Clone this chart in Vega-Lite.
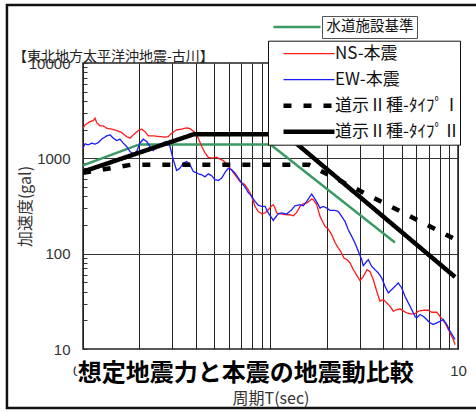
{
  "$schema": "https://vega.github.io/schema/vega-lite/v6.json",
  "width": 375,
  "height": 286,
  "autosize": {"type": "none"},
  "padding": {"left": 83, "top": 63, "right": 18, "bottom": 63},
  "background": "white",
  "title": {"text": "【東北地方太平洋沖地震-古川】", "anchor": "start", "frame": "group", "orient": "top", "fontSize": 14, "fontWeight": "normal", "font": "Noto Sans CJK JP", "color": "#222", "dx": -70, "dy": 64, "offset": 4},
  "config": {
    "font": "Noto Sans CJK JP",
    "view": {"stroke": "#222", "strokeWidth": 1.5}
  },
  "datasets": {
    "main": [
      {"s": "NS-本震", "T": 0.1, "v": 2070}, {"s": "NS-本震", "T": 0.1025, "v": 2244}, {"s": "NS-本震", "T": 0.109, "v": 2428}, {"s": "NS-本震", "T": 0.1135, "v": 2489}, {"s": "NS-本震", "T": 0.1159, "v": 2636}, {"s": "NS-本震", "T": 0.1183, "v": 2371}, {"s": "NS-本震", "T": 0.1232, "v": 2188}, {"s": "NS-本震", "T": 0.1283, "v": 2188}, {"s": "NS-本震", "T": 0.1338, "v": 2070}, {"s": "NS-本震", "T": 0.1423, "v": 2022},
      {"s": "NS-本震", "T": 0.1512, "v": 1954}, {"s": "NS-本震", "T": 0.1608, "v": 1862}, {"s": "NS-本震", "T": 0.171, "v": 1691}, {"s": "NS-本震", "T": 0.1781, "v": 1629}, {"s": "NS-本震", "T": 0.1855, "v": 1762}, {"s": "NS-本震", "T": 0.1972, "v": 1954}, {"s": "NS-本震", "T": 0.2056, "v": 2022}, {"s": "NS-本震", "T": 0.2141, "v": 1908}, {"s": "NS-本震", "T": 0.223, "v": 1721}, {"s": "NS-本震", "T": 0.2371, "v": 1721},
      {"s": "NS-本震", "T": 0.2574, "v": 1691}, {"s": "NS-本震", "T": 0.2737, "v": 1667}, {"s": "NS-本震", "T": 0.2851, "v": 1691}, {"s": "NS-本震", "T": 0.2972, "v": 1836}, {"s": "NS-本震", "T": 0.316, "v": 1988}, {"s": "NS-本震", "T": 0.336, "v": 2022}, {"s": "NS-本震", "T": 0.3573, "v": 2086}, {"s": "NS-本震", "T": 0.3722, "v": 2051}, {"s": "NS-本震", "T": 0.3956, "v": 1862}, {"s": "NS-本震", "T": 0.412, "v": 1629},
      {"s": "NS-本震", "T": 0.4297, "v": 1330}, {"s": "NS-本震", "T": 0.4474, "v": 1143}, {"s": "NS-本震", "T": 0.4659, "v": 1024}, {"s": "NS-本震", "T": 0.4857, "v": 1005}, {"s": "NS-本震", "T": 0.5166, "v": 1030}, {"s": "NS-本震", "T": 0.5379, "v": 981}, {"s": "NS-本震", "T": 0.5601, "v": 948}, {"s": "NS-本震", "T": 0.584, "v": 876}, {"s": "NS-本震", "T": 0.6081, "v": 789}, {"s": "NS-本震", "T": 0.6333, "v": 710},
      {"s": "NS-本震", "T": 0.6602, "v": 636}, {"s": "NS-本震", "T": 0.6876, "v": 571}, {"s": "NS-本震", "T": 0.7311, "v": 528}, {"s": "NS-本震", "T": 0.7613, "v": 468}, {"s": "NS-本震", "T": 0.7937, "v": 398}, {"s": "NS-本震", "T": 0.8266, "v": 313}, {"s": "NS-本震", "T": 0.8609, "v": 277}, {"s": "NS-本震", "T": 0.8977, "v": 262}, {"s": "NS-本震", "T": 0.9348, "v": 267}, {"s": "NS-本震", "T": 0.9734, "v": 289},
      {"s": "NS-本震", "T": 1.015, "v": 318}, {"s": "NS-本震", "T": 1.035, "v": 326}, {"s": "NS-本震", "T": 1.057, "v": 301}, {"s": "NS-本震", "T": 1.079, "v": 267}, {"s": "NS-本震", "T": 1.124, "v": 262}, {"s": "NS-本震", "T": 1.22, "v": 256}, {"s": "NS-本震", "T": 1.271, "v": 256}, {"s": "NS-本震", "T": 1.324, "v": 250}, {"s": "NS-本震", "T": 1.38, "v": 271}, {"s": "NS-本震", "T": 1.437, "v": 313},
      {"s": "NS-本震", "T": 1.496, "v": 334}, {"s": "NS-本震", "T": 1.56, "v": 340}, {"s": "NS-本震", "T": 1.624, "v": 361}, {"s": "NS-本震", "T": 1.659, "v": 374}, {"s": "NS-本震", "T": 1.692, "v": 368}, {"s": "NS-本震", "T": 1.764, "v": 326}, {"s": "NS-本震", "T": 1.837, "v": 246}, {"s": "NS-本震", "T": 1.953, "v": 193}, {"s": "NS-本震", "T": 2.034, "v": 181}, {"s": "NS-本震", "T": 2.12, "v": 158},
      {"s": "NS-本震", "T": 2.208, "v": 131}, {"s": "NS-本震", "T": 2.291, "v": 116}, {"s": "NS-本震", "T": 2.377, "v": 104}, {"s": "NS-本震", "T": 2.466, "v": 89.7}, {"s": "NS-本震", "T": 2.559, "v": 86.5}, {"s": "NS-本震", "T": 2.655, "v": 80}, {"s": "NS-本震", "T": 2.765, "v": 68}, {"s": "NS-本震", "T": 3.002, "v": 52.1}, {"s": "NS-本震", "T": 3.125, "v": 57.4}, {"s": "NS-本震", "T": 3.271, "v": 68},
      {"s": "NS-本震", "T": 3.394, "v": 64.8}, {"s": "NS-本震", "T": 3.535, "v": 53.4}, {"s": "NS-本震", "T": 3.685, "v": 40.3}, {"s": "NS-本震", "T": 3.837, "v": 31.7}, {"s": "NS-本震", "T": 3.996, "v": 33}, {"s": "NS-本震", "T": 4.166, "v": 30.5}, {"s": "NS-本震", "T": 4.339, "v": 28.1}, {"s": "NS-本震", "T": 4.518, "v": 24.9}, {"s": "NS-本震", "T": 4.711, "v": 25.9}, {"s": "NS-本震", "T": 4.906, "v": 26.4},
      {"s": "NS-本震", "T": 5.325, "v": 23.9}, {"s": "NS-本震", "T": 5.546, "v": 23.4}, {"s": "NS-本震", "T": 5.897, "v": 23.4}, {"s": "NS-本震", "T": 6.141, "v": 24.9}, {"s": "NS-本震", "T": 6.53, "v": 25.5}, {"s": "NS-本震", "T": 6.944, "v": 25.5}, {"s": "NS-本震", "T": 7.24, "v": 24.3}, {"s": "NS-本震", "T": 7.698, "v": 24.3}, {"s": "NS-本震", "T": 8.017, "v": 22}, {"s": "NS-本震", "T": 8.524, "v": 18.8},
      {"s": "NS-本震", "T": 9.064, "v": 14.8}, {"s": "NS-本震", "T": 9.438, "v": 12.6}, {"s": "NS-本震", "T": 9.638, "v": 11.1},
      {"s": "EW-本震", "T": 0.1, "v": 1279}, {"s": "EW-本震", "T": 0.1025, "v": 1419}, {"s": "EW-本震", "T": 0.1067, "v": 1384}, {"s": "EW-本震", "T": 0.1113, "v": 1443}, {"s": "EW-本震", "T": 0.1159, "v": 1408}, {"s": "EW-本震", "T": 0.1207, "v": 1463}, {"s": "EW-本震", "T": 0.1258, "v": 1589}, {"s": "EW-本震", "T": 0.1338, "v": 1721}, {"s": "EW-本震", "T": 0.1393, "v": 1762}, {"s": "EW-本震", "T": 0.1451, "v": 1629},
      {"s": "EW-本震", "T": 0.1512, "v": 1536}, {"s": "EW-本震", "T": 0.1575, "v": 1589}, {"s": "EW-本震", "T": 0.164, "v": 1443}, {"s": "EW-本震", "T": 0.171, "v": 1330}, {"s": "EW-本震", "T": 0.1781, "v": 1178}, {"s": "EW-本震", "T": 0.1855, "v": 1115}, {"s": "EW-本震", "T": 0.1933, "v": 1178}, {"s": "EW-本震", "T": 0.2014, "v": 1443}, {"s": "EW-本震", "T": 0.2097, "v": 1589}, {"s": "EW-本震", "T": 0.2187, "v": 1500},
      {"s": "EW-本震", "T": 0.2278, "v": 1330}, {"s": "EW-本震", "T": 0.2371, "v": 1208}, {"s": "EW-本震", "T": 0.2521, "v": 1330}, {"s": "EW-本震", "T": 0.2681, "v": 1463}, {"s": "EW-本震", "T": 0.2796, "v": 1500}, {"s": "EW-本震", "T": 0.2911, "v": 1330}, {"s": "EW-本震", "T": 0.303, "v": 964}, {"s": "EW-本震", "T": 0.316, "v": 745}, {"s": "EW-本震", "T": 0.329, "v": 789}, {"s": "EW-本震", "T": 0.3427, "v": 891},
      {"s": "EW-本震", "T": 0.3573, "v": 925}, {"s": "EW-本震", "T": 0.3722, "v": 855}, {"s": "EW-本震", "T": 0.3874, "v": 728}, {"s": "EW-本震", "T": 0.412, "v": 689}, {"s": "EW-本震", "T": 0.4297, "v": 672}, {"s": "EW-本震", "T": 0.4474, "v": 640}, {"s": "EW-本震", "T": 0.4659, "v": 689}, {"s": "EW-本震", "T": 0.4857, "v": 656}, {"s": "EW-本震", "T": 0.5058, "v": 596}, {"s": "EW-本震", "T": 0.5268, "v": 586},
      {"s": "EW-本震", "T": 0.5492, "v": 621}, {"s": "EW-本震", "T": 0.5719, "v": 710}, {"s": "EW-本震", "T": 0.5956, "v": 789}, {"s": "EW-本震", "T": 0.621, "v": 758}, {"s": "EW-本震", "T": 0.6467, "v": 700}, {"s": "EW-本震", "T": 0.6734, "v": 621}, {"s": "EW-本震", "T": 0.7021, "v": 550}, {"s": "EW-本震", "T": 0.7311, "v": 499}, {"s": "EW-本震", "T": 0.7613, "v": 438}, {"s": "EW-本震", "T": 0.7937, "v": 398},
      {"s": "EW-本震", "T": 0.8266, "v": 353}, {"s": "EW-本震", "T": 0.8609, "v": 322}, {"s": "EW-本震", "T": 0.8977, "v": 313}, {"s": "EW-本震", "T": 0.9348, "v": 314}, {"s": "EW-本震", "T": 0.9734, "v": 267}, {"s": "EW-本震", "T": 1.015, "v": 237}, {"s": "EW-本震", "T": 1.035, "v": 223}, {"s": "EW-本震", "T": 1.057, "v": 237}, {"s": "EW-本震", "T": 1.101, "v": 262}, {"s": "EW-本震", "T": 1.148, "v": 267},
      {"s": "EW-本震", "T": 1.22, "v": 260}, {"s": "EW-本震", "T": 1.297, "v": 289}, {"s": "EW-本震", "T": 1.351, "v": 318}, {"s": "EW-本震", "T": 1.437, "v": 326}, {"s": "EW-本震", "T": 1.496, "v": 318}, {"s": "EW-本震", "T": 1.56, "v": 353}, {"s": "EW-本震", "T": 1.624, "v": 398}, {"s": "EW-本震", "T": 1.659, "v": 422}, {"s": "EW-本震", "T": 1.727, "v": 374}, {"s": "EW-本震", "T": 1.798, "v": 326},
      {"s": "EW-本震", "T": 1.837, "v": 301}, {"s": "EW-本震", "T": 1.912, "v": 313}, {"s": "EW-本震", "T": 1.994, "v": 301}, {"s": "EW-本震", "T": 2.076, "v": 285}, {"s": "EW-本震", "T": 2.208, "v": 284}, {"s": "EW-本震", "T": 2.299, "v": 277}, {"s": "EW-本震", "T": 2.397, "v": 246}, {"s": "EW-本震", "T": 2.496, "v": 218}, {"s": "EW-本震", "T": 2.6, "v": 178}, {"s": "EW-本震", "T": 2.711, "v": 152},
      {"s": "EW-本震", "T": 2.823, "v": 129}, {"s": "EW-本震", "T": 2.94, "v": 106}, {"s": "EW-本震", "T": 3.065, "v": 86.5}, {"s": "EW-本震", "T": 3.125, "v": 74.8}, {"s": "EW-本震", "T": 3.259, "v": 83}, {"s": "EW-本震", "T": 3.322, "v": 86.5}, {"s": "EW-本震", "T": 3.465, "v": 73.6}, {"s": "EW-本震", "T": 3.609, "v": 68}, {"s": "EW-本震", "T": 3.757, "v": 62.8}, {"s": "EW-本震", "T": 3.918, "v": 55.7},
      {"s": "EW-本震", "T": 4.08, "v": 45.5}, {"s": "EW-本震", "T": 4.249, "v": 38.8}, {"s": "EW-本震", "T": 4.43, "v": 42}, {"s": "EW-本震", "T": 4.613, "v": 45.5}, {"s": "EW-本震", "T": 4.804, "v": 49.3}, {"s": "EW-本震", "T": 5.008, "v": 43.8}, {"s": "EW-本震", "T": 5.215, "v": 35.7}, {"s": "EW-本震", "T": 5.431, "v": 30.5}, {"s": "EW-本震", "T": 5.663, "v": 25.9}, {"s": "EW-本震", "T": 5.897, "v": 22},
      {"s": "EW-本震", "T": 6.021, "v": 21.2}, {"s": "EW-本震", "T": 6.27, "v": 23}, {"s": "EW-本震", "T": 6.53, "v": 22}, {"s": "EW-本震", "T": 6.809, "v": 20.4}, {"s": "EW-本震", "T": 7.09, "v": 18.8}, {"s": "EW-本震", "T": 7.384, "v": 18.1}, {"s": "EW-本震", "T": 7.698, "v": 18.8}, {"s": "EW-本震", "T": 8.017, "v": 19.5}, {"s": "EW-本震", "T": 8.348, "v": 20.4}, {"s": "EW-本震", "T": 8.704, "v": 18.1},
      {"s": "EW-本震", "T": 9.064, "v": 15.4}, {"s": "EW-本震", "T": 9.638, "v": 12.6},
      {"s": "道示Ⅱ種-ﾀｲﾌﾟⅠ", "T": 0.1, "v": 705}, {"s": "道示Ⅱ種-ﾀｲﾌﾟⅠ", "T": 0.18, "v": 855}, {"s": "道示Ⅱ種-ﾀｲﾌﾟⅠ", "T": 1.6, "v": 855}, {"s": "道示Ⅱ種-ﾀｲﾌﾟⅠ", "T": 9.6, "v": 142.5},
      {"s": "道示Ⅱ種-ﾀｲﾌﾟⅡ", "T": 0.1, "v": 725}, {"s": "道示Ⅱ種-ﾀｲﾌﾟⅡ", "T": 0.39, "v": 1790}, {"s": "道示Ⅱ種-ﾀｲﾌﾟⅡ", "T": 1.2, "v": 1790}, {"s": "道示Ⅱ種-ﾀｲﾌﾟⅡ", "T": 9.64, "v": 57}
    ],
    "water": [
      {"s": "水道施設基準", "k": "水道施設基準 ", "T": 0.1, "v": 845}, {"s": "水道施設基準", "k": "水道施設基準 ", "T": 0.2, "v": 1400}, {"s": "水道施設基準", "k": "水道施設基準 ", "T": 1.0, "v": 1400}, {"s": "水道施設基準", "k": "水道施設基準 ", "T": 4.61, "v": 131}
    ]
  },
  "layer": [
    {
      "data": {"values": [{}]},
      "mark": {"type": "rect", "filled": false, "color": "#111", "strokeWidth": 2.5, "clip": false},
      "encoding": {
        "x": {"datum": 0.0393, "type": "quantitative", "scale": {"type": "log", "domain": [0.1, 10]}},
        "x2": {"datum": 13.1},
        "y": {"datum": 40490, "type": "quantitative", "scale": {"type": "log", "domain": [10, 10000]}},
        "y2": {"datum": 2.41}
      }
    },
    {
      "data": {"name": "water"},
      "mark": {"type": "line", "clip": true, "strokeWidth": 2.5},
      "encoding": {
        "x": {"field": "T", "type": "quantitative", "scale": {"type": "log", "domain": [0.1, 10]},
          "axis": {
            "values": [0.1, 0.2, 0.3, 0.4, 0.5, 0.6, 0.7, 0.8, 0.9, 1, 2, 3, 4, 5, 6, 7, 8, 9, 10],
            "labelExpr": "datum.value == 0.1 ? '0.1' : datum.value == 1 ? '1' : datum.value == 10 ? '10' : ''",
            "ticks": false, "grid": true, "gridColor": "#222", "gridWidth": 1, "domain": false,
            "labelFontSize": 15, "labelFont": "Liberation Sans", "labelColor": "#333", "labelPadding": 14,
            "labelFlush": false, "labelOverlap": false,
            "title": "周期T(sec)", "titleFontSize": 16, "titleFontWeight": "normal", "titleColor": "#333", "titleY": 41
          }
        },
        "y": {"field": "v", "type": "quantitative", "scale": {"type": "log", "domain": [10, 10000]},
          "axis": {
            "values": [10, 20, 30, 40, 50, 60, 70, 80, 90, 100, 200, 300, 400, 500, 600, 700, 800, 900, 1000, 2000, 3000, 4000, 5000, 6000, 7000, 8000, 9000, 10000],
            "labelExpr": "datum.value == 10 ? '10' : datum.value == 100 ? '100' : datum.value == 1000 ? '1000' : datum.value == 10000 ? '10000' : ''",
            "grid": true, "gridColor": "#333", "gridWidth": 1.2,
            "gridOpacity": {"condition": {"test": "datum.value == 100 || datum.value == 1000", "value": 1}, "value": 0},
            "tickSize": -4, "tickColor": "#333", "domain": false,
            "labelFontSize": 15, "labelFont": "Liberation Sans", "labelColor": "#333", "labelPadding": 17,
            "labelFlush": false, "labelOverlap": false,
            "title": "加速度(gal)", "titleFontSize": 16, "titleFontWeight": "normal", "titleColor": "#333", "titleX": -50, "titleY": 143
          }
        },
        "stroke": {"field": "s", "type": "nominal", "scale": {"range": ["#3a9a64"]},
          "legend": {"title": null, "orient": "none", "legendX": 239, "legendY": -47, "symbolType": "stroke", "symbolSize": 1, "symbolOpacity": 0, "clipHeight": 16, "padding": 3, "labelOffset": -13, "labelFontSize": 14.5, "labelFont": "Noto Sans CJK JP", "labelColor": "#111", "strokeColor": "#555", "fillColor": "white"}
        },
        "opacity": {"field": "k", "type": "nominal", "scale": {"type": "ordinal", "range": [1]},
          "legend": {"title": null, "orient": "none", "legendX": 186, "legendY": -47, "symbolType": "stroke", "symbolSize": 2209, "symbolStrokeColor": "#3a9a64", "symbolStrokeWidth": 2.5, "clipHeight": 16, "padding": 3, "labelExpr": "''", "labelFontSize": 15}
        }
      }
    },
    {
      "data": {"name": "main"},
      "mark": {"type": "line", "clip": true},
      "encoding": {
        "x": {"field": "T", "type": "quantitative", "scale": {"type": "log", "domain": [0.1, 10]}},
        "y": {"field": "v", "type": "quantitative", "scale": {"type": "log", "domain": [10, 10000]}},
        "color": {"field": "s", "type": "nominal",
          "scale": {"domain": ["NS-本震", "EW-本震", "道示Ⅱ種-ﾀｲﾌﾟⅠ", "道示Ⅱ種-ﾀｲﾌﾟⅡ"], "range": ["#ff1a1a", "#1a1aff", "#000000", "#000000"]},
          "legend": {"title": null, "orient": "none", "legendX": 185, "legendY": -22.3, "symbolType": "stroke", "symbolSize": 2601, "clipHeight": 26, "rowPadding": 0, "padding": 0, "symbolOffset": 13, "labelOffset": -2, "labelFontSize": 17, "labelFont": "Noto Sans CJK JP", "labelColor": "#111", "strokeColor": "#111", "fillColor": "white", "labelExpr": "datum.label + '　   '", "labelLimit": 300}
        },
        "strokeDash": {"field": "s", "type": "nominal",
          "scale": {"domain": ["NS-本震", "EW-本震", "道示Ⅱ種-ﾀｲﾌﾟⅠ", "道示Ⅱ種-ﾀｲﾌﾟⅡ"], "range": [[1, 0], [1, 0], [8, 12], [1, 0]]},
          "legend": {"title": null, "orient": "none", "legendX": 185, "legendY": -22.3, "symbolType": "stroke", "symbolSize": 2601, "clipHeight": 26, "rowPadding": 0, "padding": 0, "symbolOffset": 13, "labelOffset": -2, "labelFontSize": 17, "labelFont": "Noto Sans CJK JP", "labelColor": "#111", "strokeColor": "#111", "fillColor": "white", "labelExpr": "datum.label + '　   '", "labelLimit": 300}
        },
        "strokeWidth": {"field": "s", "type": "nominal",
          "scale": {"type": "ordinal", "domain": ["NS-本震", "EW-本震", "道示Ⅱ種-ﾀｲﾌﾟⅠ", "道示Ⅱ種-ﾀｲﾌﾟⅡ"], "range": [1.3, 1.3, 4.5, 4.5]},
          "legend": {"title": null, "orient": "none", "legendX": 185, "legendY": -22.3, "symbolType": "stroke", "symbolSize": 2601, "clipHeight": 26, "rowPadding": 0, "padding": 0, "symbolOffset": 13, "labelOffset": -2, "labelFontSize": 17, "labelFont": "Noto Sans CJK JP", "labelColor": "#111", "strokeColor": "#111", "fillColor": "white", "labelExpr": "datum.label + '　   '", "labelLimit": 300}
        }
      }
    },
    {
      "data": {"values": [{}]},
      "mark": {"type": "text", "text": "想定地震力と本震の地震動比較", "fontSize": 24, "font": "Noto Sans CJK JP", "fontWeight": "bold", "fill": "white", "stroke": "white", "strokeWidth": 6, "strokeJoin": "round", "align": "center", "baseline": "middle", "clip": false},
      "encoding": {
        "x": {"datum": 0.7376, "type": "quantitative", "scale": {"type": "log", "domain": [0.1, 10]}},
        "y": {"datum": 5.47, "type": "quantitative", "scale": {"type": "log", "domain": [10, 10000]}}
      }
    },
    {
      "data": {"values": [{}]},
      "mark": {"type": "text", "text": "想定地震力と本震の地震動比較", "fontSize": 24, "font": "Noto Sans CJK JP", "fontWeight": "bold", "fill": "#000", "align": "center", "baseline": "middle", "clip": false},
      "encoding": {
        "x": {"datum": 0.7376, "type": "quantitative", "scale": {"type": "log", "domain": [0.1, 10]}},
        "y": {"datum": 5.47, "type": "quantitative", "scale": {"type": "log", "domain": [10, 10000]}}
      }
    }
  ]
}
